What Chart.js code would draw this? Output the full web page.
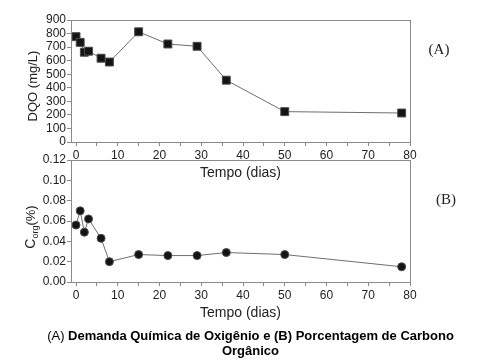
<!DOCTYPE html>
<html>
<head>
<meta charset="utf-8">
<script src="https://cdn.jsdelivr.net/npm/chart.js@4.4.0/dist/chart.umd.min.js"></script>
<style>
body { margin: 0; background: #fff; }
#wrap { position: relative; width: 491px; height: 362px; overflow: hidden; }
#boxA { position: absolute; left: 0; top: 0; }
#boxB { position: absolute; left: 0; top: 150px; }
#caption { position: absolute; left: 20px; top: 328px; width: 461px; text-align: center;
  font: bold 13px "Liberation Sans", Arial, sans-serif; line-height: 15px; color: #000; }
#caption span { font-weight: normal; }
</style>
</head>
<body>
<div id="wrap">
  <canvas id="boxA" width="491" height="190"></canvas>
  <canvas id="boxB" width="491" height="180"></canvas>
  <div id="caption"><span>(A)</span> Demanda Química de Oxigênio e (B) Porcentagem de Carbono Orgânico</div>
</div>
<script>
/* ---------------------------------------------------
   data
----------------------------------------------------- */
var dias = [0, 1, 2, 3, 6, 8, 15, 22, 29, 36, 50, 78];
var dqo = [777, 735, 662, 670, 618, 590, 813, 723, 706, 456, 224, 214];
var corg = [0.056, 0.070, 0.049, 0.062, 0.043, 0.020, 0.027, 0.026, 0.026, 0.029, 0.027, 0.015];

var xTicks = [0, 5, 10, 15, 20, 25, 30, 35, 40, 45, 50, 55, 60, 65, 70, 75, 80];
var dqoTicks = [0, 100, 200, 300, 400, 500, 600, 700, 800, 900];
var corgTicks = [0, 0.02, 0.04, 0.06, 0.08, 0.10, 0.12];

var sans = "'Liberation Sans', Arial, sans-serif";
var axisGrey = '#8a8a8a';

/* ---------------------------------------------------
   box + side labels
----------------------------------------------------- */
var panelPlugin = {
    id: 'panel',
    afterDraw: function (chart) {
        var o = chart.options.plugins.panel;
        var a = chart.chartArea;
        var ctx = chart.ctx;
        ctx.save();
        ctx.strokeStyle = axisGrey;
        ctx.lineWidth = 1;
        ctx.strokeRect(Math.round(a.left) + 0.5, Math.round(a.top) + 0.5,
            Math.round(a.right - a.left), Math.round(a.bottom - a.top));

        // y title, pieces drawn one after another so the subscript works
        ctx.translate(o.titleX, o.titleY);
        ctx.rotate(-Math.PI / 2);
        ctx.fillStyle = '#222';
        ctx.textBaseline = 'middle';
        var total = 0;
        for (var i = 0; i < o.parts.length; i++) {
            ctx.font = o.parts[i].size + 'px ' + sans;
            total += ctx.measureText(o.parts[i].text).width;
        }
        var x = -total / 2;
        for (var i = 0; i < o.parts.length; i++) {
            ctx.font = o.parts[i].size + 'px ' + sans;
            ctx.fillText(o.parts[i].text, x, o.parts[i].dy || 0);
            x += ctx.measureText(o.parts[i].text).width;
        }
        ctx.restore();

        ctx.save();
        ctx.font = "15px 'Liberation Serif', 'Times New Roman', serif";
        ctx.fillStyle = '#222';
        ctx.textAlign = 'center';
        ctx.textBaseline = 'middle';
        ctx.fillText(o.letter, o.letterX, o.letterY);
        ctx.restore();
    }
};

function makeOptions(yTicks, yFmt, padTop, panel)
{
    return {
        responsive: false,
        animation: false,
        layout: { padding: { left: 0, right: 81, top: padTop, bottom: 0 } },
        plugins: { legend: { display: false }, tooltip: { enabled: false }, panel: panel },
        scales: {
            x: {
                type: 'linear',
                min: -1.2,
                max: 80,
                afterBuildTicks: function (s) { s.ticks = xTicks.map(function (v) { return { value: v }; }); },
                afterFit: function (s) { s.height = 48; },
                border: { display: false },
                grid: { drawOnChartArea: false, tickLength: 4, color: axisGrey },
                ticks: {
                    autoSkip: false, maxRotation: 0, padding: 2, color: '#222',
                    font: { family: sans, size: 12 },
                    callback: function (v) { return v % 10 === 0 ? String(v) : ''; }
                },
                title: {
                    display: true, text: 'Tempo (dias)', color: '#222',
                    font: { family: sans, size: 14 }, padding: { top: 0, bottom: 8 }
                }
            },
            y: {
                min: yTicks[0],
                max: yTicks[yTicks.length - 1],
                afterBuildTicks: function (s) { s.ticks = yTicks.map(function (v) { return { value: v }; }); },
                afterFit: function (s) { s.width = 71; },
                border: { display: false },
                grid: { drawOnChartArea: false, tickLength: 4, color: axisGrey },
                ticks: {
                    autoSkip: false, padding: 1, color: '#222',
                    font: { family: sans, size: 12 },
                    callback: yFmt
                }
            }
        }
    };
}

function pairs(ys)
{
    var out = [];
    for (var i = 0; i < dias.length; i++) {
        out.push({ x: dias[i], y: ys[i] });
    }
    return out;
}

/* ---------------------------------------------------
   (A) DQO
----------------------------------------------------- */
new Chart(document.getElementById('boxA'), {
    type: 'line',
    data: {
        datasets: [{
            data: pairs(dqo),
            borderColor: '#6e6e6e',
            borderWidth: 1,
            tension: 0,
            pointStyle: 'rect',
            pointRadius: 5.6,
            pointBackgroundColor: '#141414',
            pointBorderColor: '#4a4a4a',
            pointBorderWidth: 1
        }]
    },
    options: makeOptions(dqoTicks, function (v) { return String(v); }, 20, {
        titleX: 33, titleY: 86, letter: '(A)', letterX: 439, letterY: 50,
        parts: [{ text: 'DQO (mg/L)', size: 13 }]
    }),
    plugins: [panelPlugin]
});

/* ---------------------------------------------------
   (B) Corg
----------------------------------------------------- */
new Chart(document.getElementById('boxB'), {
    type: 'line',
    data: {
        datasets: [{
            data: pairs(corg),
            borderColor: '#6e6e6e',
            borderWidth: 1,
            tension: 0,
            pointStyle: 'circle',
            pointRadius: 4,
            pointBackgroundColor: '#141414',
            pointBorderColor: '#4a4a4a',
            pointBorderWidth: 1
        }]
    },
    options: makeOptions(corgTicks, function (v) { return v.toFixed(2); }, 10, {
        titleX: 31, titleY: 77, letter: '(B)', letterX: 446, letterY: 50,
        parts: [{ text: 'C', size: 14 }, { text: 'org', size: 9, dy: 5 }, { text: '(%)', size: 13 }]
    }),
    plugins: [panelPlugin]
});
</script>
</body>
</html>
